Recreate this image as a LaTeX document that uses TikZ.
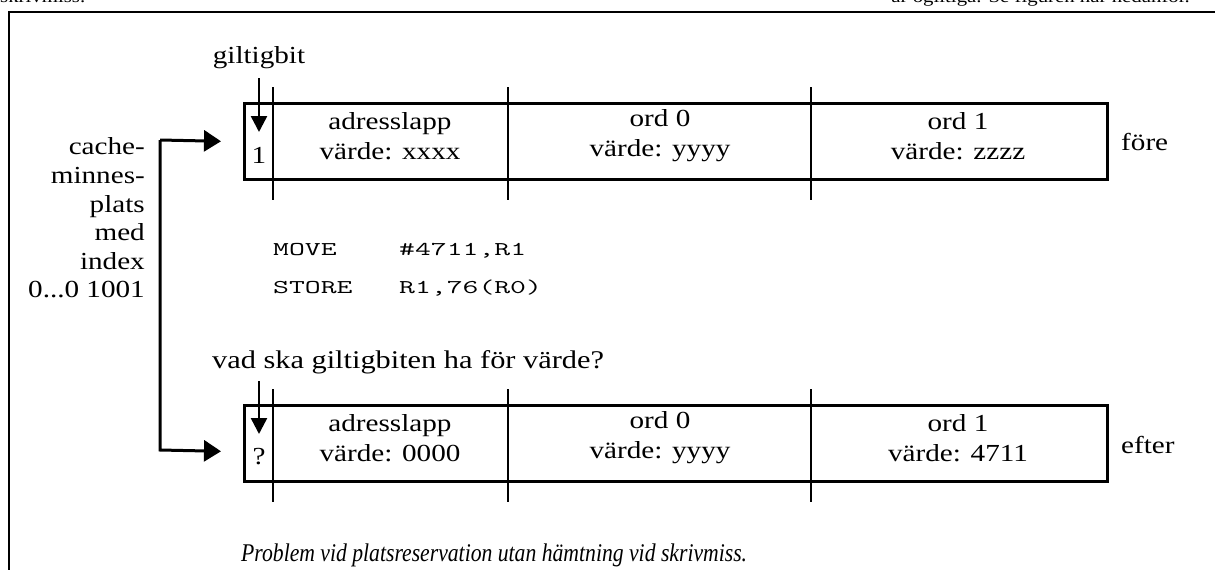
\documentclass[tikz,border=0pt]{standalone}
\usepackage{fontspec}
\setmainfont{Liberation Serif}[FakeStretch=1.19]
\newfontfamily\codefont{Latin Modern Mono}[FakeStretch=1.58]
\newfontfamily\capfont{Liberation Serif}[FakeStretch=0.85]
\usetikzlibrary{arrows.meta}

\tikzset{
  frameline/.style={line width=1.2pt},
  cachebox/.style={draw, line width=2.6pt, inner sep=0pt, anchor=north west},
  divider/.style={line width=1.1pt},
  pointer/.style={line width=2.5pt, -{Triangle[length=16pt,width=16pt]}},
  bracket/.style={line width=3pt, -{Triangle[length=17pt,width=21pt]}},
  txt/.style={inner sep=0pt, font=\fontsize{24.5}{30}\selectfont},
  celltxt/.style={txt, align=center},
  runtxt/.style={inner sep=0pt, font=\fontsize{17.5}{21}\selectfont},
  codetxt/.style={inner sep=0pt, anchor=base west, font=\codefont\fontsize{19.5}{24}\selectfont},
}

\begin{document}
\begin{tikzpicture}[x=1pt, y=-1pt]
\useasboundingbox (0,0) rectangle (1215,570);

% running text of the surrounding page, cut at the top edge
\node[runtxt, anchor=base west] (runL) at (0,2) {skrivmiss.};
\node[runtxt, anchor=base east] (runR) at (1190,2) {är ogiltiga. Se figuren här nedanför.};

% figure frame
\draw[frameline] (9,570) -- (9,12) -- (1215,12);

% cache line before the store
\node[cachebox, minimum width=863pt, minimum height=76pt] (before) at (243,102) {};
\draw[divider] (273,87) -- (273,200);
\draw[divider] (508,87) -- (508,200);
\draw[divider] (811,87) -- (811,200);
\node[celltxt] (b-tag) at (390,136) {adresslapp\\värde: xxxx};
\node[celltxt] (b-w0) at (660,136) {ord 0\\värde: yyyy};
\node[celltxt] (b-w1) at (958,136) {ord 1\\värde: zzzz};
\node[txt] (b-valid) at (259,155) {1};
\node[txt, anchor=west] (fore) at (1121,142) {före};

% cache line after the store
\node[cachebox, minimum width=863pt, minimum height=76pt] (after) at (243,404) {};
\draw[divider] (273,389) -- (273,502);
\draw[divider] (508,389) -- (508,502);
\draw[divider] (811,389) -- (811,502);
\node[celltxt] (a-tag) at (390,438) {adresslapp\\värde: 0000};
\node[celltxt] (a-w0) at (660,438) {ord 0\\värde: yyyy};
\node[celltxt] (a-w1) at (958,438) {ord 1\\värde: 4711};
\node[txt] (a-valid) at (259,457) {?};
\node[txt, anchor=west] (efter) at (1121,445) {efter};

% valid-bit labels and pointers
\node[txt] (gbit) at (259,58) {giltigbit};
\coordinate (gbit-tip) at (259,132);
\draw[pointer] (259,78) -- (gbit-tip);
\node[txt, anchor=west, font=\fontsize{25.5}{30}\selectfont] (question) at (212,362) {vad ska giltigbiten ha för värde?};
\coordinate (q-tip) at (259,434);
\draw[pointer] (259,381) -- (q-tip);

% cache location label and bracket
\node[txt, align=right, anchor=east, font=\fontsize{24.5}{28.6}\selectfont] (loc) at (145,218)
  {cache-\\minnes-\\plats\\med\\index\\0...0 1001};
\coordinate (bk-top) at (160,140);
\coordinate (bk-bot) at (160,450);
\draw[bracket] (bk-top) -- ([xshift=-22pt]before.west);
\draw[bracket] (bk-top) -- (bk-bot) -- ([xshift=-22pt, yshift=-8pt]after.west);

% instruction sequence
\node[codetxt] (op1) at (273,255) {MOVE};
\node[codetxt] (arg1) at (399,255) {\#4711,R1};
\node[codetxt] (op2) at (273,293) {STORE};
\node[codetxt] (arg2) at (399,293) {R1,76(R0)};

% caption
\node[inner sep=0pt, anchor=base west, font=\capfont\itshape\fontsize{25.5}{30}\selectfont] (caption) at (241,561)
  {Problem vid platsreservation utan hämtning vid skrivmiss.};
\end{tikzpicture}
\end{document}
